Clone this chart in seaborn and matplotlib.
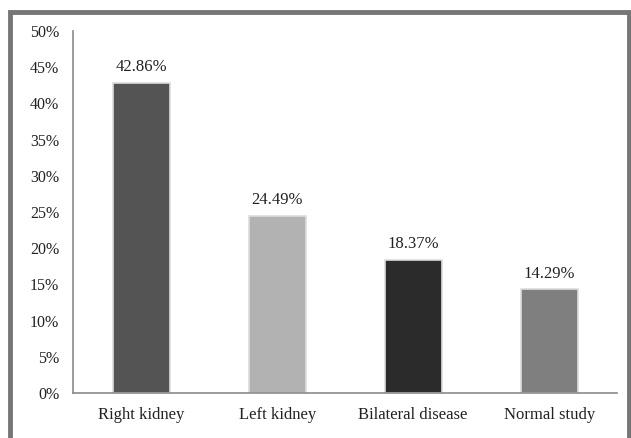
import pandas as pd
import seaborn as sns
import matplotlib.pyplot as plt
from matplotlib.patches import Rectangle

# Chart data
categories = ['Right kidney', 'Left kidney', 'Bilateral disease', 'Normal study']
percentages = [42.86, 24.49, 18.37, 14.29]
bar_colors = ['#545454', '#b2b2b2', '#2b2b2b', '#7f7f7f']
y_ticks = [0, 5, 10, 15, 20, 25, 30, 35, 40, 45, 50]

df = pd.DataFrame({'category': categories, 'pct': percentages})

sns.set_style('white')
plt.rcParams['font.family'] = ['Liberation Serif', 'DejaVu Serif']

fig = plt.figure(figsize=(6.31, 4.38), dpi=100)
ax = fig.add_axes([0.116, 0.103, 0.862, 0.826])

sns.barplot(data=df, x='category', y='pct', hue='category', palette=bar_colors,
            legend=False, width=0.42, edgecolor='#dddddd', linewidth=1.2, ax=ax)

# value labels above bars
for i, v in enumerate(percentages):
    ax.text(i, v + 1.1, f'{v:.2f}%', ha='center', va='bottom', fontsize=12, color='#222222')

ax.set_ylim(0, 50)
ax.set_xlim(-0.5, 3.5)
ax.set_yticks(y_ticks)
ax.set_yticklabels([f'{t}%' for t in y_ticks], fontsize=11.5, color='#222222')
ax.tick_params(axis='x', labelsize=12, colors='#222222', length=0, pad=10)
ax.tick_params(axis='y', length=0, pad=10)
ax.set_xlabel('')
ax.set_ylabel('')

for side in ['top', 'right']:
    ax.spines[side].set_visible(False)
for side in ['left', 'bottom']:
    ax.spines[side].set_color('#8a8a8a')
    ax.spines[side].set_linewidth(1.2)

# outer gray frame
fig.patches.append(Rectangle((10 / 631, -0.05), 619 / 631, 1.05 - 12 / 438,
                             transform=fig.transFigure, fill=False,
                             edgecolor='#767676', linewidth=3.5))

plt.savefig('out.png', dpi=100)
